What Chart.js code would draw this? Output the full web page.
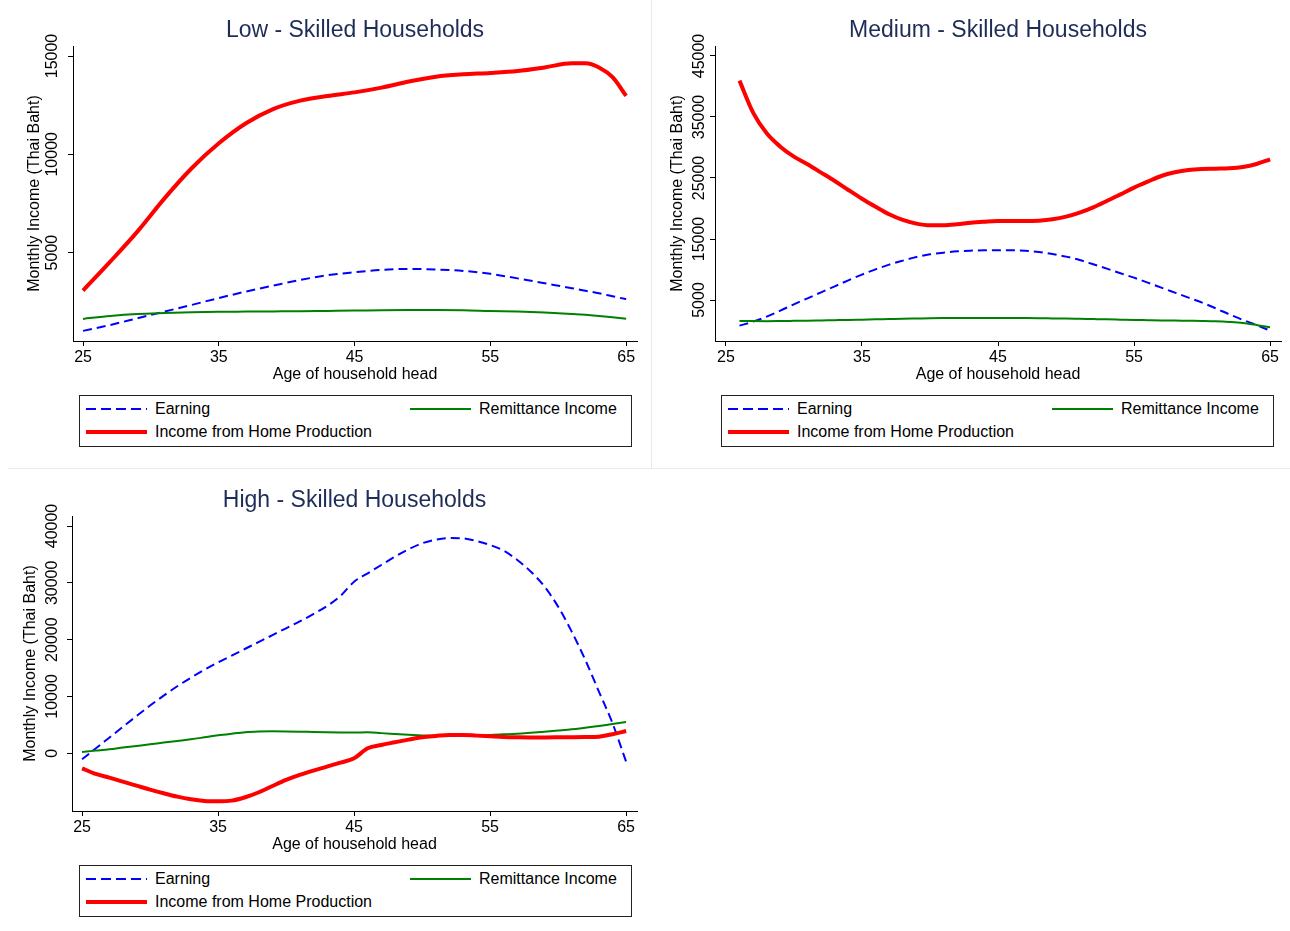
<!DOCTYPE html>
<html>
<head>
<meta charset="utf-8">
<title>Income profiles by skill level</title>
<script src="https://cdn.jsdelivr.net/npm/chart.js@4.4.1/dist/chart.umd.min.js"></script>
<style>
  body { margin: 0; background: #fff; width: 1290px; height: 931px; position: relative; overflow: hidden;
         font-family: "Liberation Sans", Arial, sans-serif; }
  canvas { position: absolute; }
  .legend { position: absolute; width: 553px; height: 52px; border: 1px solid #222; box-sizing: border-box; }
  .legend svg { position: absolute; }
  .legend span { position: absolute; font-size: 16px; line-height: 20px; color: #000; white-space: nowrap; }
  .sep { position: absolute; background: #e6ebee; }
</style>
</head>
<body>

<div class="sep" style="left:651px;top:0;width:1px;height:468px"></div>
<div class="sep" style="left:8px;top:468px;width:1282px;height:1px"></div>

<canvas id="low" width="650" height="390" style="left:0;top:0"></canvas>
<canvas id="medium" width="640" height="390" style="left:650px;top:0"></canvas>
<canvas id="high" width="650" height="390" style="left:0;top:470px"></canvas>

<div class="legend" id="legend-low" style="left:79px;top:395px"></div>
<div class="legend" id="legend-medium" style="left:721px;top:395px"></div>
<div class="legend" id="legend-high" style="left:79px;top:865px"></div>

<script>
/* -----------------------------------------------------------------
   DATA — values
   ----------------------------------------------------------------- */
const SERIES_LABELS = ["Earning", "Remittance Income", "Income from Home Production"];
const X_TICKS = [25, 35, 45, 55, 65];

// Low - skilled
const LOW_AGES = [25, 27, 29, 31, 33, 35, 37, 39, 41, 43, 45, 47, 49, 51, 53, 55, 57, 59, 61, 62, 63, 64, 65];
const LOW_EARNING = [1020, 1320, 1660, 2000, 2340, 2690, 3020, 3320, 3610, 3850, 4000, 4120, 4170, 4140, 4070, 3920, 3690, 3440, 3190, 3060, 2930, 2780, 2630];
const LOW_REMITTANCE = [1630, 1780, 1880, 1930, 1970, 1990, 2000, 2010, 2020, 2035, 2050, 2070, 2080, 2080, 2070, 2030, 2000, 1950, 1880, 1835, 1780, 1715, 1640];
const LOW_HOME = [3070, 4540, 6070, 7760, 9290, 10560, 11580, 12300, 12730, 12970, 13150, 13390, 13700, 13950, 14070, 14140, 14240, 14420, 14630, 14630, 14420, 13920, 12970];
const LOW_YTICKS = [5000, 10000, 15000];

// Medium - skilled
const MED_AGES = [26, 27, 28, 29, 30, 31, 32, 33, 34, 35, 36, 37, 38, 39, 40, 41, 42, 43, 44, 45,
                  46, 47, 48, 49, 50, 51, 52, 53, 54, 55, 56, 57, 58, 59, 60, 61, 62, 63, 64, 65];
const MED_EARNING = [800, 1450, 2270, 3250, 4290, 5280, 6260, 7240, 8230, 9160, 10030, 10800, 11450, 12050, 12490, 12760, 12980, 13090, 13150, 13150,
                     13150, 13090, 12870, 12540, 12110, 11560, 10850, 10140, 9380, 8660, 7850, 7030, 6210, 5390, 4570, 3640, 2650, 1730, 910, -30];
const MED_REMITTANCE = [1560, 1540, 1530, 1550, 1580, 1610, 1650, 1690, 1730, 1780, 1830, 1880, 1930, 1970, 2010, 2040, 2050, 2060, 2060, 2050,
                        2040, 2030, 2010, 1980, 1950, 1910, 1870, 1830, 1780, 1730, 1690, 1650, 1620, 1590, 1560, 1510, 1400, 1230, 910, 520];
const MED_HOME = [40960, 35710, 32320, 30140, 28500, 27240, 25880, 24510, 23040, 21610, 20300, 19050, 18120, 17520, 17240, 17240, 17410, 17680, 17840, 17950,
                  17950, 17950, 18010, 18230, 18660, 19320, 20190, 21230, 22320, 23420, 24400, 25330, 25930, 26310, 26480, 26530, 26590, 26810, 27300, 28060];
const MED_YTICKS = [5000, 15000, 25000, 35000, 45000];

// High - skilled
const HIGH_AGES = [25, 26, 27, 28, 29, 30, 31, 32, 33, 34, 35, 36, 37, 38, 39, 40, 41, 42, 43, 44, 45,
                   46, 47, 48, 49, 50, 51, 52, 53, 54, 55, 56, 57, 58, 59, 60, 61, 62, 63, 64, 65];
const HIGH_EARNING = [-1060, 850, 2750, 4650, 6550, 8400, 10150, 11800, 13300, 14700, 16000, 17200, 18400, 19600, 20800, 22000, 23200, 24500, 25900, 27700, 30200,
                      31670, 33140, 34600, 35890, 36950, 37600, 37890, 37830, 37360, 36660, 35660, 34020, 31960, 29330, 25810, 21410, 16420, 10850, 5280, -1470];
const HIGH_REMITTANCE = [235, 470, 700, 1000, 1290, 1580, 1880, 2170, 2460, 2810, 3170, 3450, 3700, 3820, 3870, 3850, 3810, 3750, 3700, 3660, 3640,
                         3690, 3550, 3400, 3250, 3110, 3070, 3050, 3100, 3170, 3230, 3340, 3460, 3630, 3810, 4010, 4220, 4510, 4810, 5160, 5510];
const HIGH_HOME = [-2640, -3640, -4280, -4990, -5690, -6390, -7040, -7630, -8090, -8390, -8450, -8330, -7740, -6860, -5750, -4690, -3810, -3050, -2350, -1640, -880,
                   880, 1470, 1940, 2410, 2820, 3050, 3230, 3230, 3110, 2990, 2870, 2820, 2800, 2800, 2810, 2820, 2850, 2930, 3340, 3930];
const HIGH_YTICKS = [0, 10000, 20000, 30000, 40000];

/* -----------------------------------------------------------------
   STİL
   ----------------------------------------------------------------- */
const FONT = '"Liberation Sans", Arial, sans-serif';
const TITLE_COLOR = "#1e2d58";
const STYLES = [
  { color: "#0000ff", width: 2, dash: [9, 5], order: 3 },
  { color: "#008000", width: 2, dash: [], order: 2 },
  { color: "#ff0000", width: 4, dash: [], order: 1 },
];

function points(ages, values) {
  return ages.map((a, i) => ({ x: a, y: values[i] }));
}

// draws the panel title and the rotated (Stata-style) y tick labels
const panelTextPlugin = {
  id: "panelText",
  afterDraw(chart, args, opts) {
    const { ctx, chartArea } = chart;
    const yScale = chart.scales.y;
    ctx.save();
    ctx.fillStyle = "#000";
    ctx.font = "16px " + FONT;
    ctx.textAlign = "center";
    ctx.textBaseline = "middle";
    yScale.ticks.forEach((t) => {
      ctx.save();
      ctx.translate(chartArea.left - opts.labelOffset, yScale.getPixelForValue(t.value));
      ctx.rotate(-Math.PI / 2);
      ctx.fillText(String(t.value), 0, 0);
      ctx.restore();
    });
    ctx.fillStyle = TITLE_COLOR;
    ctx.font = "23px " + FONT;
    ctx.textBaseline = "alphabetic";
    ctx.fillText(opts.title, (chartArea.left + chartArea.right) / 2, 37);
    ctx.restore();
  },
};

function makePanel(id, p) {
  const series = [p.earning, p.remittance, p.home];
  new Chart(document.getElementById(id), {
    type: "line",
    data: {
      datasets: series.map((vals, i) => ({
        label: SERIES_LABELS[i],
        data: points(p.ages, vals),
        borderColor: STYLES[i].color,
        borderWidth: STYLES[i].width,
        borderDash: STYLES[i].dash,
        borderCapStyle: "butt",
        pointRadius: 0,
        fill: false,
        cubicInterpolationMode: "monotone",
        order: STYLES[i].order,
      })),
    },
    options: {
      responsive: false,
      animation: false,
      events: [],
      layout: { padding: { top: 46, right: p.padRight, left: 0, bottom: 0 } },
      plugins: {
        legend: { display: false },
        tooltip: { enabled: false },
        panelText: { title: p.title, labelOffset: p.labelOffset },
      },
      scales: {
        x: {
          type: "linear",
          min: p.xMin,
          max: p.xMax,
          afterBuildTicks: (s) => { s.ticks = X_TICKS.map((v) => ({ value: v })); },
          afterFit: (s) => { s.height = 49; },
          ticks: { color: "#000", font: { family: FONT, size: 16 }, padding: 2, maxRotation: 0, autoSkip: false },
          grid: { drawOnChartArea: false, drawTicks: true, tickLength: 5, color: "#000" },
          border: { display: true, color: "#000", width: 1 },
          title: {
            display: true, text: "Age of household head", color: "#000",
            font: { family: FONT, size: 16 }, padding: { top: 6, bottom: 6 },
          },
        },
        y: {
          type: "linear",
          min: p.yMin,
          max: p.yMax,
          afterBuildTicks: (s) => { s.ticks = p.yTicks.map((v) => ({ value: v })); },
          afterFit: (s) => { s.width = p.yWidth; },
          ticks: { display: false },
          grid: { drawOnChartArea: false, drawTicks: true, tickLength: 5, color: "#000" },
          border: { display: true, color: "#000", width: 1 },
          title: {
            display: true, text: "Monthly Income (Thai Baht)", color: "#000",
            font: { family: FONT, size: 16 }, padding: { top: p.titlePad, bottom: p.titlePad },
          },
        },
      },
    },
    plugins: [panelTextPlugin],
  });
}

function buildLegend(id) {
  const box = document.getElementById(id);
  // Stata fills the legend row by row: Earning | Remittance, then Home Production
  const slots = [
    { left: 6, row: 13 },
    { left: 330, row: 13 },
    { left: 6, row: 36 },
  ];
  slots.forEach((slot, i) => {
    const st = STYLES[i];
    const svg = document.createElementNS("http://www.w3.org/2000/svg", "svg");
    svg.setAttribute("width", "61");
    svg.setAttribute("height", "8");
    svg.style.left = slot.left + "px";
    svg.style.top = (slot.row - 4) + "px";
    const line = document.createElementNS("http://www.w3.org/2000/svg", "line");
    line.setAttribute("x1", "0"); line.setAttribute("y1", "4");
    line.setAttribute("x2", "61"); line.setAttribute("y2", "4");
    line.setAttribute("stroke", st.color);
    line.setAttribute("stroke-width", String(st.width));
    if (st.dash.length) line.setAttribute("stroke-dasharray", "10,5");
    svg.appendChild(line);
    box.appendChild(svg);

    const label = document.createElement("span");
    label.textContent = SERIES_LABELS[i];
    label.style.left = (slot.left + 69) + "px";
    label.style.top = (slot.row - 10) + "px";
    box.appendChild(label);
  });
}

makePanel("low", {
  title: "Low - Skilled Households",
  ages: LOW_AGES, earning: LOW_EARNING, remittance: LOW_REMITTANCE, home: LOW_HOME,
  yTicks: LOW_YTICKS, yMin: 505, yMax: 15509, xMin: 24.26, xMax: 65.8,
  yWidth: 73, padRight: 13, titlePad: 25, labelOffset: 20,
});
makePanel("medium", {
  title: "Medium - Skilled Households",
  ages: MED_AGES, earning: MED_EARNING, remittance: MED_REMITTANCE, home: MED_HOME,
  yTicks: MED_YTICKS, yMin: -1721, yMax: 46639, xMin: 24.2, xMax: 65.8,
  yWidth: 65, padRight: 9, titlePad: 18, labelOffset: 15,
});
makePanel("high", {
  title: "High - Skilled Households",
  ages: HIGH_AGES, earning: HIGH_EARNING, remittance: HIGH_REMITTANCE, home: HIGH_HOME,
  yTicks: HIGH_YTICKS, yMin: -10155, yMax: 41760, xMin: 24.26, xMax: 65.8,
  yWidth: 72, padRight: 13, titlePad: 21, labelOffset: 19,
});

buildLegend("legend-low");
buildLegend("legend-medium");
buildLegend("legend-high");
</script>
</body>
</html>
